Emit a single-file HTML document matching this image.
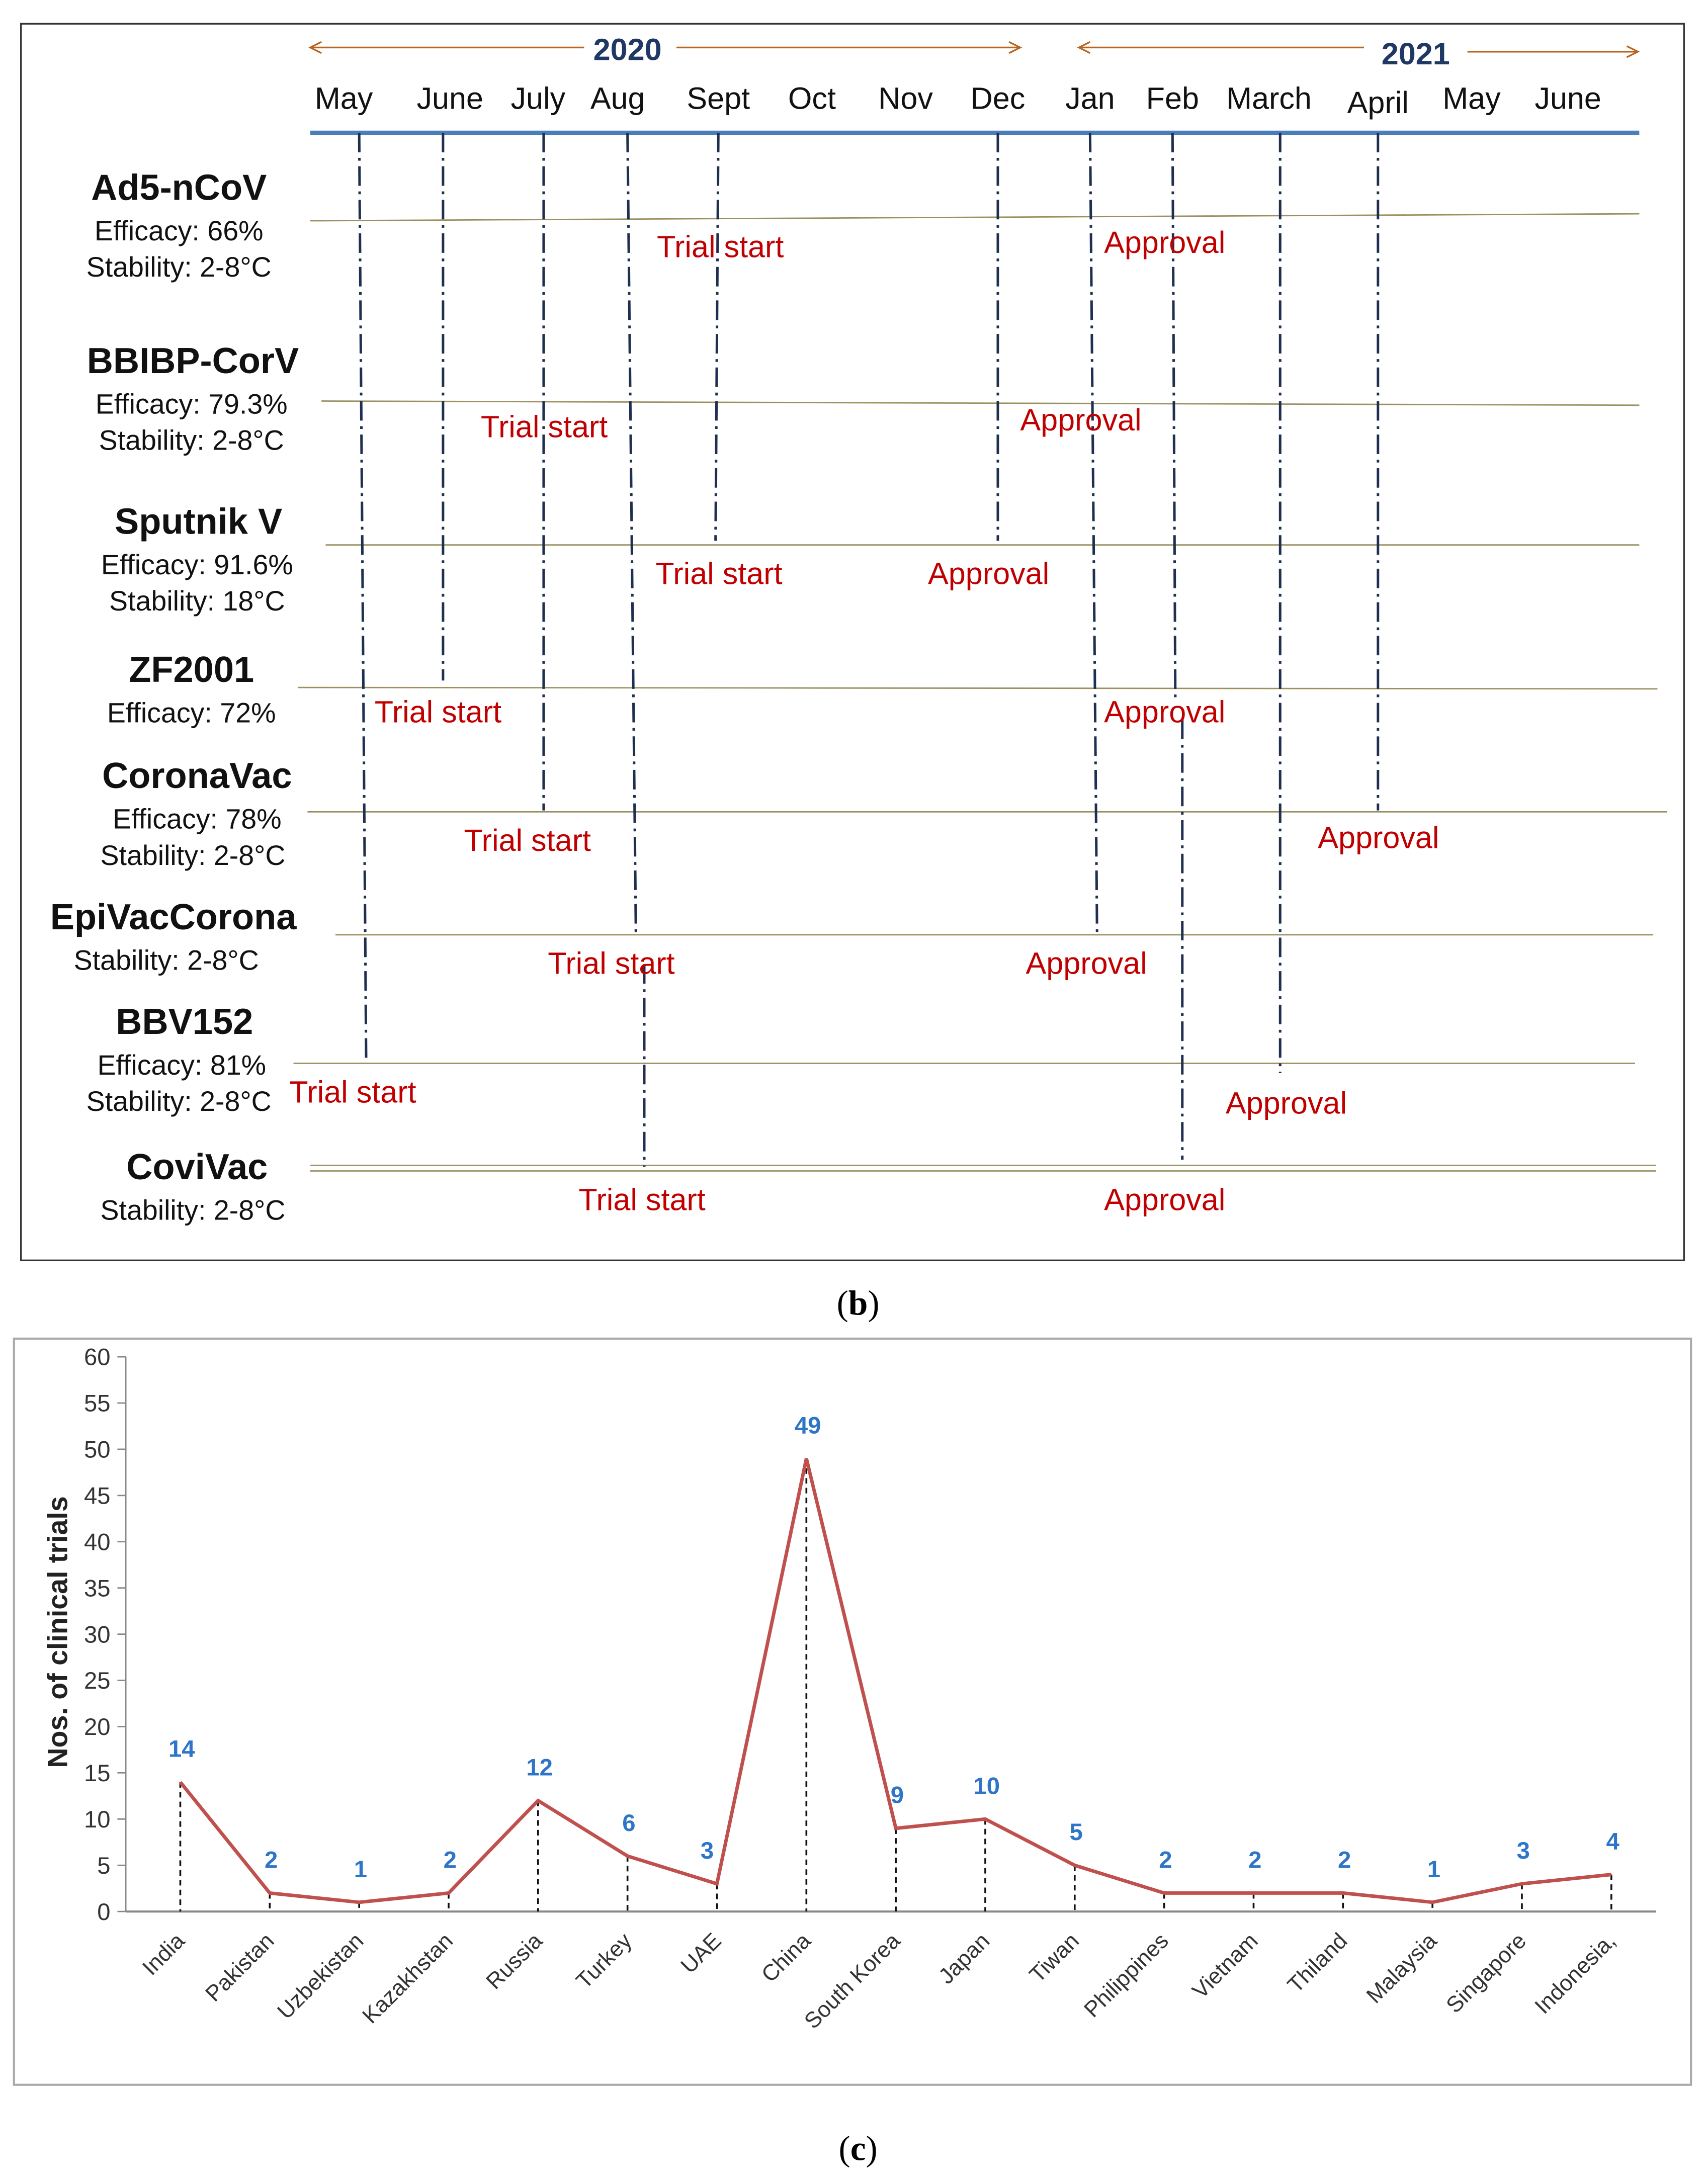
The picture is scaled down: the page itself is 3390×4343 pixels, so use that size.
<!DOCTYPE html>
<html><head><meta charset="utf-8">
<style>
html,body{margin:0;padding:0;background:#fff;}
svg{display:block;}
text{font-family:"Liberation Sans",sans-serif;}
</style></head>
<body>
<svg id="root" width="3390" height="4343" viewBox="0 0 1220 1563" xmlns="http://www.w3.org/2000/svg">
<g id="panelB">
<rect x="15" y="17" width="1190" height="885" fill="#fff" stroke="#333" stroke-width="1.2"/>
<line x1="222" y1="95" x2="1173" y2="95" stroke="#4a7ebb" stroke-width="3"/>
<g stroke="#b8651f" fill="none" stroke-width="1.2">
<line x1="222" y1="34" x2="418" y2="34"/><path d="M230 30 L222 34 L230 38"/>
<line x1="484" y1="34" x2="730" y2="34"/><path d="M722 30 L730 34 L722 38"/>
<line x1="772" y1="34" x2="976" y2="34"/><path d="M780 30 L772 34 L780 38"/>
<line x1="1050" y1="37" x2="1172" y2="37"/><path d="M1164 33 L1172 37 L1164 41"/>
</g>
<text x="449" y="43" text-anchor="middle" font-size="22" font-weight="bold" fill="#1f3864">2020</text>
<text x="1013" y="46" text-anchor="middle" font-size="22" font-weight="bold" fill="#1f3864">2021</text>
<g id="months" font-size="22" fill="#111" text-anchor="middle"></g>
<g id="hlines" stroke="#9a9060" stroke-width="1"></g>
<g id="vlines" stroke="#1f2f4f" stroke-width="1.8" stroke-dasharray="14,4,2,4"></g>
<g id="vnames" text-anchor="middle" fill="#111"></g>
<g id="events" font-size="22" fill="#c00000"></g>
</g>
<text x="614" y="941" text-anchor="middle" font-size="25" style="font-family:'Liberation Serif',serif">(<tspan font-weight="bold">b</tspan>)</text>

<g id="panelC">
<rect x="10" y="958" width="1200" height="534" fill="#fff" stroke="#aaa" stroke-width="1.5"/>
<g id="yaxis"></g>
<g id="xaxis"></g>
<text transform="translate(48,1168) rotate(-90)" text-anchor="middle" font-size="20" font-weight="bold" fill="#222">Nos. of clinical trials</text>
<g id="series"></g>
</g>
<text x="614" y="1546" text-anchor="middle" font-size="25" style="font-family:'Liberation Serif',serif">(<tspan font-weight="bold">c</tspan>)</text>
</svg>
<script>
const countries=["India","Pakistan","Uzbekistan","Kazakhstan","Russia","Turkey","UAE","China","South Korea","Japan","Tiwan","Philippines","Vietnam","Thiland","Malaysia","Singapore","Indonesia,"];
const trials=[14,2,1,2,12,6,3,49,9,10,5,2,2,2,1,3,4];
const yTicks=[0,5,10,15,20,25,30,35,40,45,50,55,60];
const months=["May","June","July","Aug","Sept","Oct","Nov","Dec","Jan","Feb","March","April","May","June"];
const monthX=[246,322,385,442,514,581,648,714,780,839,908,986,1053,1122];
const monthY=[78,78,78,78,78,78,78,78,78,78,78,81,78,78];

const NS="http://www.w3.org/2000/svg";
function mk(tag,attrs,parent,txt){const e=document.createElementNS(NS,tag);for(const k in attrs)e.setAttribute(k,attrs[k]);if(txt!==undefined)e.textContent=txt;parent.appendChild(e);return e;}
const $=id=>document.getElementById(id);

months.forEach((m,i)=>{const t=mk('text',{x:monthX[i],y:monthY[i]},$('months'),m);

});

const hl=[[222,158,1173,153],[230,287,1173,290],[233,390,1173,390],[213,492,1186,493],[220,581,1193,581],[240,669,1183,669],[210,761,1170,761],[222,834,1185,834],[222,838,1185,838]];
hl.forEach(l=>{const e=mk('line',{x1:l[0],y1:l[1],x2:l[2],y2:l[3]},$('hlines'));

});
const vl=[[257,95,262,760],[317,95,317,487],[389,95,389,580],[449,95,455,668],[461,690,461,835],[514,95,512,387],[714,95,714,387],[780,95,785,668],[839,95,841,500],[846,515,846,830],[916,95,916,768],[986,95,986,580]];
vl.forEach(l=>{const e=mk('line',{x1:l[0],y1:l[1],x2:l[2],y2:l[3]},$('vlines'));

});

const names=[["Ad5-nCoV",128,134,["Efficacy: 66%","Stability: 2-8°C"],[128,128]],
["BBIBP-CorV",138,258,["Efficacy: 79.3%","Stability: 2-8°C"],[137,137]],
["Sputnik V",142,373,["Efficacy: 91.6%","Stability:  18°C"],[141,141]],
["ZF2001",137,479,["Efficacy: 72%"],[137]],
["CoronaVac",141,555,["Efficacy: 78%","Stability: 2-8°C"],[141,138]],
["EpiVacCorona",124,656,["Stability: 2-8°C"],[119]],
["BBV152",132,731,["Efficacy: 81%","Stability: 2-8°C"],[130,128]],
["CoviVac",141,835,["Stability: 2-8°C"],[138]]];
names.forEach(n=>{const t=mk('text',{x:n[1],y:n[2]+9,'font-size':26,'font-weight':'bold'},$('vnames'),n[0]);


n[3].forEach((s,j)=>{const u=mk('text',{x:n[4][j],y:n[2]+38+j*26,'font-size':20},$('vnames'),s);

});});

const ev=[["Trial start",470,184],["Approval",790,181],["Trial start",344,313],["Approval",730,308],["Trial start",469,418],["Approval",664,418],["Trial start",268,517],["Approval",790,517],["Trial start",332,609],["Approval",943,607],["Trial start",392,697],["Approval",734,697],["Trial start",207,789],["Approval",877,797],["Trial start",414,866],["Approval",790,866]];
ev.forEach(e=>{const t=mk('text',{x:e[1],y:e[2]},$('events'),e[0]);

});

// chart
const y0=1368,yTop=971,xL=90,xR=1185,x0=129,dx=64.0;
const ys=v=>y0-(v/60)*(y0-yTop);
const xs=i=>x0+i*dx;
const ya=$('yaxis'), xa=$('xaxis');
mk('line',{x1:90,y1:yTop,x2:90,y2:y0,stroke:'#888','stroke-width':1},ya);
yTicks.forEach(v=>{mk('line',{x1:84,y1:ys(v),x2:90,y2:ys(v),stroke:'#888'},ya);
const t=mk('text',{x:79,y:ys(v)+6,'text-anchor':'end','font-size':17,fill:'#333'},ya,v);

});
mk('line',{x1:xL,y1:y0,x2:xR,y2:y0,stroke:'#888','stroke-width':1.5},xa);
countries.forEach((c,i)=>{const t=mk('text',{transform:`translate(${xs(i)+4},${y0+22}) rotate(-45)`,'text-anchor':'end','font-size':16,fill:'#333'},xa,c);


const d=mk('line',{x1:xs(i),y1:ys(trials[i]),x2:xs(i),y2:y0,stroke:'#111','stroke-width':1.3,'stroke-dasharray':'4,3'},$('series'));

});
const p=mk('polyline',{points:trials.map((v,i)=>xs(i)+','+ys(v)).join(' '),fill:'none',stroke:'#c0504d','stroke-width':2.5},$('series'));


trials.forEach((v,i)=>{const off=(i===6)?-7:1;
const t=mk('text',{x:xs(i)+off,y:ys(v)-18,'text-anchor':'middle','font-size':17,'font-weight':'bold',fill:'#2e75c8'},$('series'),v);

});
</script>
</body></html>
